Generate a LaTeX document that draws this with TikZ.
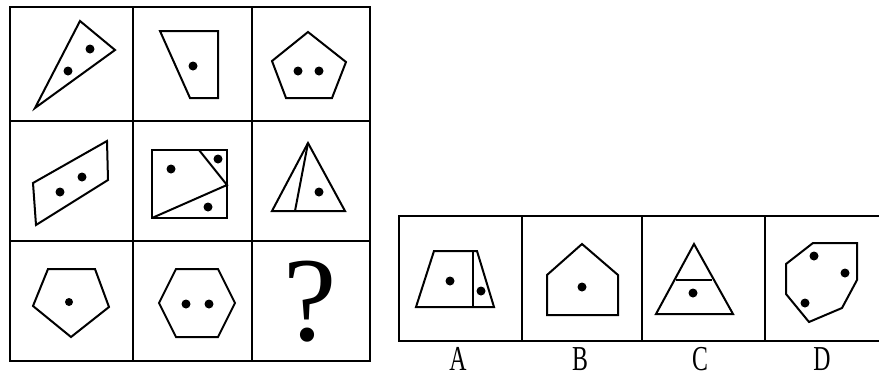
\documentclass[tikz,border=0pt]{standalone}
\usepackage{fontspec}
\setmainfont{Liberation Serif}
\begin{document}
\begin{tikzpicture}[x=1pt,y=-1pt,
  fig/.style={line width=2pt,line join=miter},
  grid/.style={line width=2.6pt},
  pt/.style={fill=black},
  lbl/.style={inner sep=0pt,font=\fontsize{35}{35}\selectfont}]
\useasboundingbox (0,0) rectangle (879,378);
\fill[white] (0,0) rectangle (879,378);
% grid
\draw[grid] (10,7) rectangle (370,361);
\draw[grid] (133,7) -- (133,361) (252,7) -- (252,361);
\draw[grid] (10,121) -- (370,121) (10,241) -- (370,241);
% row 1
\draw[fig] (80,21) -- (115,50) -- (35,108) -- cycle;
\fill[pt] (90,49) circle (4.5) (68,71) circle (4.5);
\draw[fig] (160,31) -- (218,31) -- (218,98) -- (190,98) -- cycle;
\fill[pt] (193,66) circle (4.5);
\draw[fig] (308,32) -- (346,62) -- (332,98) -- (286,98) -- (272,61) -- cycle;
\fill[pt] (298,71) circle (4.5) (319,71) circle (4.5);
% row 2
\draw[fig] (33,183) -- (107,141) -- (108,180) -- (36,225) -- cycle;
\fill[pt] (60,192) circle (4.5) (82,177) circle (4.5);
\draw[fig] (152,150) rectangle (227,218);
\draw[fig] (199,150) -- (227,185) -- (152,218);
\fill[pt] (218,159) circle (4.5) (171,169) circle (4.5) (208,207) circle (4.5);
\draw[fig] (308,143) -- (345,211) -- (272,211) -- cycle;
\draw[fig] (308,143) -- (295,211);
\fill[pt] (319,192) circle (4.5);
% row 3
\draw[fig] (48,269) -- (95,269) -- (109,307) -- (71,337) -- (33,306) -- cycle;
\fill[pt] (69,302) circle (4);
\draw[fig] (159,303) -- (176,269) -- (218,269) -- (235,303) -- (218,337) -- (176,337) -- cycle;
\fill[pt] (186,304) circle (4.5) (209,304) circle (4.5);
\node[inner sep=0pt,font=\fontsize{120}{120}\selectfont] (q) at (310,302) {?};
% answers box
\draw[grid] (885,216) -- (399,216) -- (399,341) -- (885,341);
\draw[grid] (522,216) -- (522,341) (642,216) -- (642,341) (765,216) -- (765,341);
% A
\draw[fig] (434,251) -- (477,251) -- (494,307) -- (416,307) -- cycle;
\draw[fig] (473,251) -- (473,307);
\fill[pt] (450,281) circle (4.5) (481,291) circle (4.5);
% B
\draw[fig] (582,244) -- (618,275) -- (618,315) -- (547,315) -- (547,275) -- cycle;
\fill[pt] (582,287) circle (4.5);
% C
\draw[fig] (694,244) -- (733,314) -- (656,314) -- cycle;
\draw[fig] (676,280) -- (712,280);
\fill[pt] (693,293) circle (4.5);
% D
\draw[fig] (813,243) -- (857,243) -- (857,280) -- (842,308) -- (809,322) -- (786,294) -- (786,264) -- cycle;
\fill[pt] (814,256) circle (4.5) (845,273) circle (4.5) (805,303) circle (4.5);
% labels
\node[lbl] (la) at (458,359) {\scalebox{0.68}[1]{A}};
\node[lbl] (lb) at (580,359) {\scalebox{0.68}[1]{B}};
\node[lbl] (lc) at (700,359) {\scalebox{0.68}[1]{C}};
\node[lbl] (ld) at (822,359) {\scalebox{0.68}[1]{D}};
\end{tikzpicture}
\end{document}
